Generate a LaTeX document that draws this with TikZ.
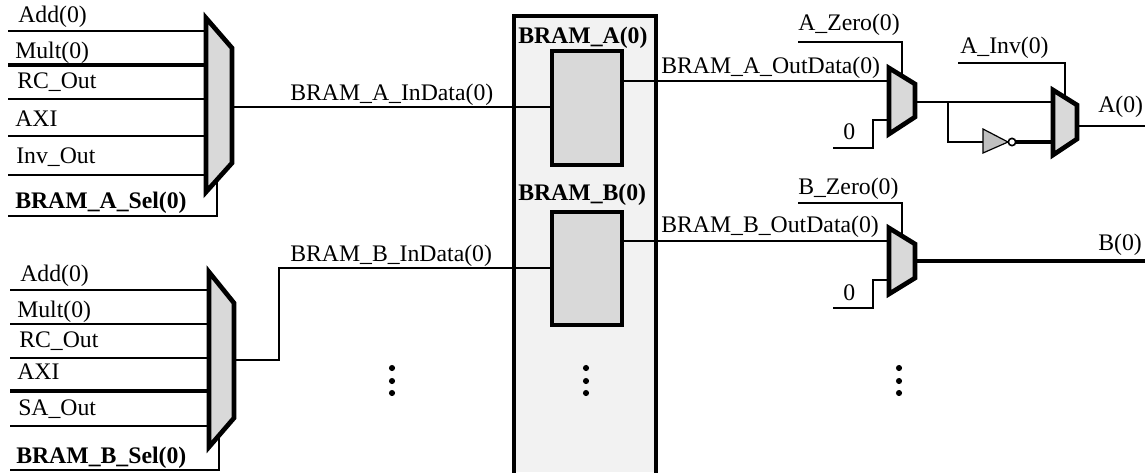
\documentclass[tikz,border=0pt]{standalone}
\usepackage{fontspec}
\setmainfont{Liberation Serif}
\tikzset{
  px/.style={x=0.75pt,y=-0.75pt},
  wire/.style={draw=black,line width=2.2pt,line join=miter},
  wirethick/.style={draw=black,line width=3pt,line join=miter},
  muxshape/.style={draw=black,fill=muxgray,line width=3.5pt,line join=miter},
  block/.style={draw=black,fill=muxgray,line width=3.2pt,rectangle,inner sep=0pt,outer sep=0pt,anchor=north west,minimum width=52.5pt,minimum height=85pt},
  lbl/.style={anchor=base west,inner sep=0pt,font=\fontsize{17.8pt}{20pt}\selectfont},
  blbl/.style={lbl,font=\fontsize{17.8pt}{20pt}\selectfont\bfseries},
  vdot/.style={fill=black,circle,inner sep=0pt,minimum size=4.6pt},
}
\definecolor{muxgray}{HTML}{D9D9D9}
\definecolor{panelgray}{HTML}{F2F2F2}
\definecolor{invgray}{HTML}{BFBFBF}
\begin{document}
\begin{tikzpicture}[px]
\useasboundingbox (0,0) rectangle (1145,472);
% memory panel (open at the bottom)
\fill[panelgray] (514,15) rectangle (656,472);
\draw[black,line width=3.2pt,line join=miter] (514,474) -- (514,16) -- (656,16) -- (656,474);
% named port coordinates
\foreach \n/\y in {1/31,2/65,3/99,4/136,5/175}{\coordinate (ain\n) at (8,\y);\coordinate (ainm\n) at (206,\y);}
\foreach \n/\y in {1/290,2/324,3/358,4/391,5/426}{\coordinate (bin\n) at (10,\y);\coordinate (binm\n) at (209,\y);}
\coordinate (asel0) at (8,216); \coordinate (asel1) at (217,216); \coordinate (asel2) at (217,178);
\coordinate (bsel0) at (10,470); \coordinate (bsel1) at (219,470); \coordinate (bsel2) at (219,434);
\coordinate (amuxout) at (232,107);
\coordinate (bmuxout) at (234,360);
\coordinate (bjog1) at (279,360); \coordinate (bjog2) at (279,268);
\node[block,minimum height=85.5pt] (bramA) at (552,51) {};
\node[block,minimum height=84.75pt] (bramB) at (552,212) {};
\coordinate (ainp) at (552,107); \coordinate (binp) at (552,268);
\coordinate (aout) at (622,81); \coordinate (bout) at (622,241);
\coordinate (zAin) at (889,81); \coordinate (zBin) at (889,241);
\coordinate (zAsel0) at (798,42); \coordinate (zAsel1) at (902,42); \coordinate (zAsel2) at (902,76);
\coordinate (zBsel0) at (798,203); \coordinate (zBsel1) at (902,203); \coordinate (zBsel2) at (902,235);
\coordinate (zA0a) at (833,148); \coordinate (zA0b) at (873,148); \coordinate (zA0c) at (873,120); \coordinate (zA0d) at (889,120);
\coordinate (zB0a) at (833,308); \coordinate (zB0b) at (873,308); \coordinate (zB0c) at (873,280); \coordinate (zB0d) at (889,280);
\coordinate (zAout) at (915,102); \coordinate (invIn1) at (1052,102);
\coordinate (tap) at (948,102); \coordinate (tapd) at (948,142); \coordinate (gateIn) at (983,142);
\coordinate (gateOut) at (1015,142); \coordinate (invIn2) at (1052,142);
\coordinate (iSel0) at (958,63); \coordinate (iSel1) at (1065,63); \coordinate (iSel2) at (1065,98);
\coordinate (iOut) at (1077,126); \coordinate (Aend) at (1145,126);
\coordinate (zBout) at (915,261); \coordinate (Bend) at (1145,261);
% wires
\foreach \n/\w in {1/wire,2/wirethick,3/wire,4/wire,5/wire}{\draw[\w] (ain\n) -- (ainm\n);}
\foreach \n/\w in {1/wire,2/wire,3/wire,4/wirethick,5/wire}{\draw[\w] (bin\n) -- (binm\n);}
\draw[wire] (asel0) -- (asel1) -- (asel2);
\draw[wire] (bsel0) -- (bsel1) -- (bsel2);
\draw[wire] (amuxout) -- (ainp);
\draw[wire] (bmuxout) -- (bjog1) -- (bjog2) -- (binp);
\draw[wire] (aout) -- (zAin);
\draw[wire] (bout) -- (zBin);
\draw[wire] (zAsel0) -- (zAsel1) -- (zAsel2);
\draw[wire] (zBsel0) -- (zBsel1) -- (zBsel2);
\draw[wire] (zA0a) -- (zA0b) -- (zA0c) -- (zA0d);
\draw[wire] (zB0a) -- (zB0b) -- (zB0c) -- (zB0d);
\draw[wire] (zAout) -- (invIn1);
\draw[wire] (tap) -- (tapd) -- (gateIn);
\draw[wirethick] (gateOut) -- (invIn2);
\draw[wire] (iSel0) -- (iSel1) -- (iSel2);
\draw[wire] (iOut) -- (Aend);
\draw[wirethick] (zBout) -- (Bend);
% blocks on top of wires
\node[block,minimum height=85.5pt] at (552,51) {};
\node[block,minimum height=84.75pt] at (552,212) {};
% multiplexers
\draw[muxshape] (206,18) -- (232,48) -- (232,163) -- (206,192) -- cycle;
\draw[muxshape] (209,272) -- (234,303) -- (234,418) -- (209,447) -- cycle;
\draw[muxshape] (889,68) -- (915,84) -- (915,117) -- (889,134) -- cycle;
\draw[muxshape] (889,228) -- (915,244) -- (915,278) -- (889,294) -- cycle;
\draw[muxshape] (1053,90) -- (1077,105) -- (1077,139) -- (1053,155) -- cycle;
% inverter
\draw[draw=black,fill=invgray,line width=0.9pt] (983,129) -- (1008,142) -- (983,153) -- cycle;
\node[draw=black,fill=white,circle,line width=1.2pt,inner sep=0pt,minimum size=5.5pt] (bubble) at (1012,142) {};
% labels
\node[lbl] (l1) at (18,22) {Add(0)};
\node[lbl] (l2) at (15,58) {Mult(0)};
\node[lbl] (l3) at (17,88) {RC\_Out};
\node[lbl] (l4) at (15,126) {AXI};
\node[lbl] (l5) at (16,163) {Inv\_Out};
\node[blbl] (l6) at (15,208) {BRAM\_A\_Sel(0)};
\node[lbl] (m1) at (20,281) {Add(0)};
\node[lbl] (m2) at (17,317) {Mult(0)};
\node[lbl] (m3) at (19,347) {RC\_Out};
\node[lbl] (m4) at (17,379) {AXI};
\node[lbl] (m5) at (18,415) {SA\_Out};
\node[blbl] (m6) at (16,463) {BRAM\_B\_Sel(0)};
\node[lbl] (ind1) at (290,100) {BRAM\_A\_InData(0)};
\node[lbl] (ind2) at (290,261) {BRAM\_B\_InData(0)};
\node[blbl] (na) at (518,43) {BRAM\_A(0)};
\node[blbl] (nb) at (518,200) {BRAM\_B(0)};
\node[lbl] (od1) at (661,73) {BRAM\_A\_OutData(0)};
\node[lbl] (od2) at (661,232) {BRAM\_B\_OutData(0)};
\node[lbl] (z1) at (798,30) {A\_Zero(0)};
\node[lbl] (z2) at (798,194) {B\_Zero(0)};
\node[lbl] (inv) at (960,53) {A\_Inv(0)};
\node[lbl] (oa) at (1098,112) {A(0)};
\node[lbl] (ob) at (1098,250) {B(0)};
\node[lbl] (za) at (843,139) {0};
\node[lbl] (zb) at (843,300) {0};
% ellipsis dots
\foreach \x/\t in {392/p,586/q,899/r}{\foreach \y/\k in {368/a,381/b,393/c}{\node[vdot] (\t\k) at (\x,\y) {};}}
\end{tikzpicture}
\end{document}
